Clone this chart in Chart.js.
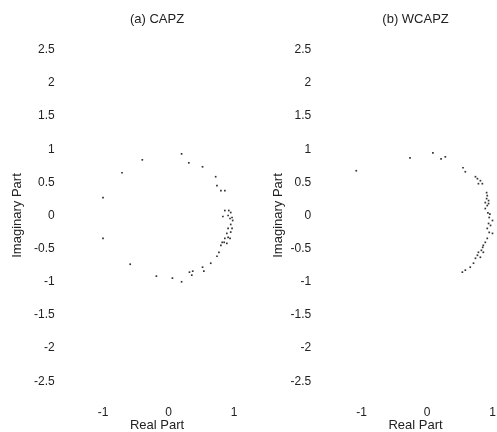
<!DOCTYPE html>
<html>
<head>
<meta charset="utf-8">
<script src="https://cdn.jsdelivr.net/npm/chart.js@4/dist/chart.umd.min.js"></script>
<style>
  html, body { margin: 0; padding: 0; background: #fff; overflow: hidden; width: 497px; height: 432px; }
  .panel { position: absolute; top: 0; }
</style>
</head>
<body>
<div class="panel" style="left:0px;"><canvas id="c1" width="248" height="432"></canvas></div>
<div class="panel" style="left:248px;"><canvas id="c2" width="260" height="432"></canvas></div>
<script>
// ---- data ----
const capzReal = [
  -1.00, -0.71, -0.40, 0.20, 0.31, 0.52, 0.72, 0.74, 0.80, 0.86,
  0.86, 0.92, 0.95, 0.83, 0.91, 0.97, 0.94, 0.98, 0.95, 0.91, 0.97,
  0.89, 0.95, 0.86, 0.91, 0.94, 0.82, 0.85, 0.89, 0.80,
  0.77, 0.74, 0.645, 0.54, 0.52, 0.37, 0.355, 0.32, 0.20, 0.06, -0.185, -0.585, -1.00
];
const capzImag = [
  0.27, 0.645, 0.84, 0.93, 0.795, 0.735, 0.585, 0.45, 0.375, 0.375,
  0.075, 0.075, 0.045, -0.015, 0.0, -0.03, -0.045, -0.075, -0.135, -0.195, -0.195,
  -0.27, -0.25, -0.345, -0.33, -0.345, -0.405, -0.405, -0.42, -0.45,
  -0.555, -0.615, -0.72, -0.84, -0.78, -0.84, -0.90, -0.855, -1.00, -0.945, -0.915, -0.735, -0.345
];
const wcapzReal = [
  -1.08, -0.26, 0.09, 0.215, 0.28, 0.55, 0.585, 0.74, 0.77, 0.815, 0.785, 0.845,
  0.91, 0.92, 0.91, 0.94, 0.89, 0.94, 0.92, 0.89, 0.93, 0.96,
  0.95, 1.00, 0.94, 0.97, 0.92, 0.95, 1.00, 0.92, 0.89, 0.86, 0.85, 0.83,
  0.785, 0.86, 0.77, 0.815, 0.74, 0.71, 0.66, 0.585, 0.54
];
const wcapzImag = [
  0.675, 0.87, 0.945, 0.855, 0.885, 0.72, 0.66, 0.585, 0.555, 0.525, 0.48, 0.48,
  0.345, 0.30, 0.255, 0.225, 0.195, 0.18, 0.15, 0.105, 0.04, 0.02,
  -0.03, -0.075, -0.12, -0.15, -0.195, -0.255, -0.27, -0.345, -0.405, -0.45, -0.48, -0.525,
  -0.555, -0.555, -0.60, -0.63, -0.645, -0.72, -0.78, -0.825, -0.855
];
const xTickValues = [-1, 0, 1];
const yTickValues = [2.5, 2, 1.5, 1, 0.5, 0, -0.5, -1, -1.5, -2, -2.5];
const titles = ['(a) CAPZ', '(b) WCAPZ'];
const xTitle = 'Real Part';
const yTitle = 'Imaginary Part';

const FONT = "'Liberation Sans', Arial, Helvetica, sans-serif";
const TXT = '#222';

function toPoints(re, im) {
  return re.map((r, i) => ({ x: r, y: im[i] }));
}

function makeChart(id, title, re, im, cfg) {
  return new Chart(document.getElementById(id), {
    type: 'scatter',
    data: {
      datasets: [{
        data: toPoints(re, im),
        pointStyle: 'rect',
        pointRadius: 1.2,
        pointBorderWidth: 0,
        backgroundColor: '#333',
        borderColor: '#333',
        showLine: false,
        clip: false
      }]
    },
    options: {
      responsive: false,
      animation: false,
      events: [],
      layout: { padding: { left: 0, right: cfg.padRight, top: 0, bottom: 0 } },
      plugins: {
        legend: { display: false },
        tooltip: { enabled: false },
        title: {
          display: true,
          text: title,
          fullSize: false,
          color: TXT,
          font: { family: FONT, size: 13, weight: 'normal', lineHeight: 1.2 },
          padding: { top: 11.7, bottom: 2.6 }
        }
      },
      scales: {
        x: {
          type: 'linear',
          min: -1.5,
          max: 1.15,
          grid: { display: false, drawTicks: false },
          border: { display: false },
          afterBuildTicks: (s) => { s.ticks = xTickValues.map(v => ({ value: v })); },
          afterFit: (s) => { s.height = 30.9; },
          ticks: {
            color: TXT,
            padding: 4,
            maxRotation: 0,
            font: { family: FONT, size: 12 },
            callback: (v) => String(v)
          },
          title: {
            display: true,
            text: xTitle,
            color: TXT,
            font: { family: FONT, size: 13, lineHeight: 1.0 },
            padding: { top: 0, bottom: 0 }
          }
        },
        y: {
          type: 'linear',
          min: -2.8,
          max: 2.8,
          grid: { display: false, drawTicks: false },
          border: { display: false },
          afterBuildTicks: (s) => { s.ticks = yTickValues.map(v => ({ value: v })); },
          afterFit: (s) => { s.width = cfg.yWidth; },
          ticks: {
            color: TXT,
            padding: cfg.yTickPad,
            font: { family: FONT, size: 12 },
            callback: (v) => String(v)
          },
          title: {
            display: true,
            text: yTitle,
            color: TXT,
            font: { family: FONT, size: 13, lineHeight: 1.2 },
            padding: { top: cfg.yTitlePad, bottom: 0 }
          }
        }
      }
    }
  });
}

makeChart('c1', titles[0], capzReal, capzImag, { yWidth: 70.25, padRight: 4.17, yTickPad: 15.5, yTitlePad: 9.5 });
makeChart('c2', titles[1], wcapzReal, wcapzImag, { yWidth: 80.75, padRight: 5.67, yTickPad: 17.5, yTitlePad: 22.5 });
</script>
</body>
</html>
